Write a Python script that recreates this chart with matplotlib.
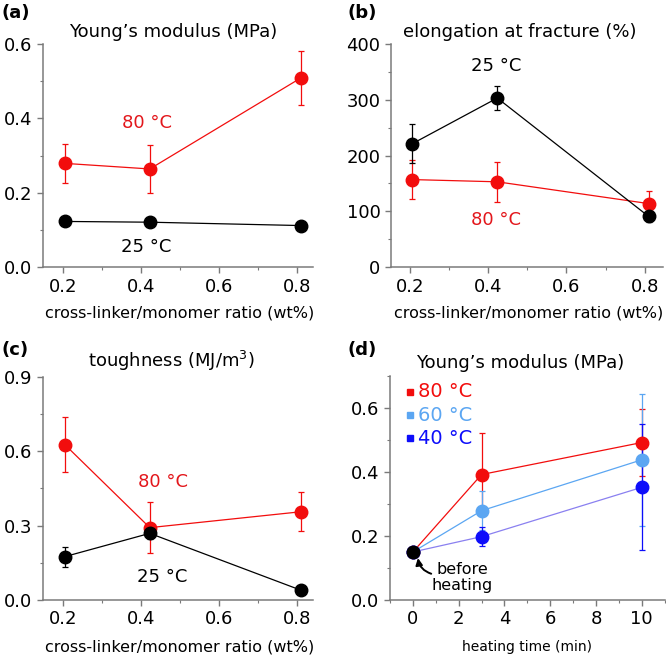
import numpy as np
import matplotlib
matplotlib.use("Agg")
import matplotlib.pyplot as plt
from matplotlib.ticker import MultipleLocator

plt.rcParams["font.family"] = ["DejaVu Sans"]

# ---- data ----
ratio = [0.205, 0.423, 0.81]

# (a) Young's modulus (MPa)
mod_80 = [0.279, 0.264, 0.508]
mod_80_err = [0.052, 0.064, 0.072]
mod_25 = [0.123, 0.121, 0.112]

# (b) elongation at fracture (%)
elong_25 = [221, 303, 91]
elong_25_err = [35, 22, 10]
elong_80 = [157, 153, 114]
elong_80_err = [35, 36, 22]

# (c) toughness (MJ/m3)
tough_80 = [0.627, 0.292, 0.356]
tough_80_err = [0.111, 0.103, 0.079]
tough_25 = [0.175, 0.269, 0.040]
tough_25_err = [0.040, 0.022, 0.0]

# (d) Young's modulus vs heating time
time_min = [0, 3, 10]
before_heating = 0.15
heat_80 = [0.15, 0.392, 0.492]
heat_80_err = [0, 0.13, 0.106]
heat_60 = [0.15, 0.279, 0.438]
heat_60_err = [0, 0.06, 0.206]
heat_40 = [0.15, 0.198, 0.352]
heat_40_err = [0, 0.029, 0.197]

RED = "#f20d0d"
RED_TXT = "#e3171c"
LBLUE = "#5ba6f2"
BLUE = "#0d0dfa"
BLUE_LINE = "#8a80f0"
SPINE = "#7a7a7a"


def style_axes(ax):
    for s in ["top", "right"]:
        ax.spines[s].set_visible(False)
    for s in ["left", "bottom"]:
        ax.spines[s].set_color(SPINE)
        ax.spines[s].set_linewidth(1.1)
    ax.tick_params(which="both", direction="out", color=SPINE, labelsize=13)
    ax.tick_params(which="major", length=4, width=1)
    ax.tick_params(which="minor", length=2, width=0.8)


def series(ax, x, y, err, color, line_color=None, ms=9, lw=0.9):
    if err is not None:
        ax.errorbar(x, y, yerr=err, fmt="none", ecolor=color, elinewidth=0.9,
                    capsize=2.5, capthick=0.9, zorder=2)
    ax.plot(x, y, color=line_color or color, lw=lw, marker="o", ms=ms,
            mfc=color, mec=color, zorder=3)


fig = plt.figure(figsize=(6.66, 6.55), dpi=100)

ax_a = fig.add_axes([0.0646, 0.592, 0.4054, 0.341])
ax_b = fig.add_axes([0.587, 0.592, 0.408, 0.341])
ax_c = fig.add_axes([0.0646, 0.084, 0.4054, 0.3404])
ax_d = fig.add_axes([0.5856, 0.084, 0.4124, 0.342])

# (a)
series(ax_a, ratio, mod_80, mod_80_err, RED)
series(ax_a, ratio, mod_25, None, "black")
ax_a.set_xlim(0.149, 0.842)
ax_a.set_ylim(0, 0.6)
ax_a.yaxis.set_major_locator(MultipleLocator(0.2))
ax_a.yaxis.set_minor_locator(MultipleLocator(0.1))
ax_a.text(0.415, 0.387, "80 °C", color=RED_TXT, fontsize=13, ha="center", va="center")
ax_a.text(0.415, 0.054, "25 °C", color="black", fontsize=13, ha="center", va="center")

# (b)
series(ax_b, ratio, elong_80, elong_80_err, RED)
series(ax_b, ratio, elong_25, elong_25_err, "black")
ax_b.set_xlim(0.151, 0.846)
ax_b.set_ylim(0, 400)
ax_b.yaxis.set_major_locator(MultipleLocator(100))
ax_b.yaxis.set_minor_locator(MultipleLocator(50))
ax_b.text(0.42, 360, "25 °C", color="black", fontsize=13, ha="center", va="center")
ax_b.text(0.42, 84, "80 °C", color=RED_TXT, fontsize=13, ha="center", va="center")

# (c)
series(ax_c, ratio, tough_80, tough_80_err, RED)
series(ax_c, ratio, tough_25, tough_25_err, "black")
ax_c.set_xlim(0.149, 0.842)
ax_c.set_ylim(0, 0.9)
ax_c.yaxis.set_major_locator(MultipleLocator(0.3))
ax_c.yaxis.set_minor_locator(MultipleLocator(0.15))
ax_c.text(0.456, 0.477, "80 °C", color=RED_TXT, fontsize=13, ha="center", va="center")
ax_c.text(0.456, 0.094, "25 °C", color="black", fontsize=13, ha="center", va="center")

for ax in (ax_a, ax_b, ax_c):
    ax.xaxis.set_major_locator(MultipleLocator(0.2))
    ax.xaxis.set_minor_locator(MultipleLocator(0.1))
    ax.xaxis.set_major_formatter(plt.FuncFormatter(lambda v, p: f"{v:.1f}"))
    style_axes(ax)
ax_b.yaxis.set_major_formatter(plt.FuncFormatter(lambda v, p: f"{v:.0f}"))

# (d)
series(ax_d, time_min, heat_80, heat_80_err, RED, ms=9, lw=0.9)
series(ax_d, time_min, heat_60, heat_60_err, LBLUE, ms=9, lw=0.9)
series(ax_d, time_min, heat_40, heat_40_err, BLUE, line_color=BLUE_LINE, ms=9, lw=0.9)
ax_d.plot([0], [before_heating], "o", color="black", ms=9, zorder=5)
ax_d.set_xlim(-1, 11)
ax_d.set_ylim(0, 0.7)
ax_d.xaxis.set_major_locator(MultipleLocator(2))
ax_d.xaxis.set_minor_locator(MultipleLocator(1))
ax_d.yaxis.set_major_locator(MultipleLocator(0.2))
ax_d.yaxis.set_minor_locator(MultipleLocator(0.1))
ax_d.yaxis.set_major_formatter(plt.FuncFormatter(lambda v, p: f"{v:.1f}"))
style_axes(ax_d)

# legend in (d)
legend_items = [("80 °C", RED, 0.651), ("60 °C", LBLUE, 0.578), ("40 °C", BLUE, 0.506)]
for lab, col, yy in legend_items:
    ax_d.plot([-0.13], [yy], "s", color=col, ms=4)
    ax_d.text(0.22, yy, lab, color=col, fontsize=14, va="center", ha="left")

ax_d.annotate("", xy=(0.22, 0.131), xytext=(0.8, 0.082),
              arrowprops=dict(arrowstyle="-|>", color="black", lw=1.4,
                              mutation_scale=10, shrinkA=0, shrinkB=0,
                              connectionstyle="arc3,rad=-0.3"))
ax_d.text(2.14, 0.07, "before\nheating", fontsize=11.5, ha="center", va="center",
          multialignment="center", linespacing=1.1)

# titles, axis labels, panel labels
fig.text(0.26, 0.951, "Young’s modulus (MPa)", fontsize=13, ha="center", va="center")
fig.text(0.781, 0.951, "elongation at fracture (%)", fontsize=13, ha="center", va="center")
fig.text(0.258, 0.449, "toughness (MJ/m$^3$)", fontsize=13, ha="center", va="center")
fig.text(0.781, 0.446, "Young’s modulus (MPa)", fontsize=13, ha="center", va="center")

fig.text(0.269, 0.522, "cross-linker/monomer ratio (wt%)", fontsize=11.5, ha="center", va="center")
fig.text(0.793, 0.522, "cross-linker/monomer ratio (wt%)", fontsize=11.5, ha="center", va="center")
fig.text(0.269, 0.012, "cross-linker/monomer ratio (wt%)", fontsize=11.5, ha="center", va="center")
fig.text(0.791, 0.012, "heating time (min)", fontsize=10, ha="center", va="center")

fig.text(0.002, 0.98, "(a)", fontsize=13, fontweight="bold", ha="left", va="center")
fig.text(0.522, 0.98, "(b)", fontsize=13, fontweight="bold", ha="left", va="center")
fig.text(0.002, 0.466, "(c)", fontsize=13, fontweight="bold", ha="left", va="center")
fig.text(0.522, 0.466, "(d)", fontsize=13, fontweight="bold", ha="left", va="center")

fig.savefig("out.png", dpi=100)
